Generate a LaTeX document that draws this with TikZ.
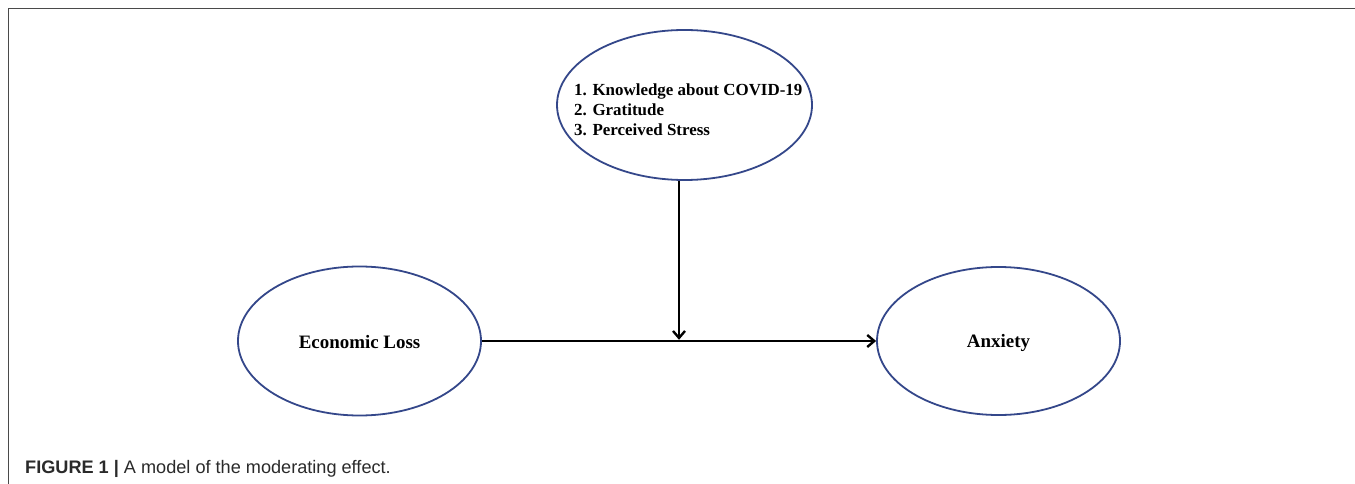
\documentclass[tikz,border=0pt]{standalone}
\usepackage{fontspec}
\setmainfont{Liberation Serif}
\newfontfamily\capfont{Liberation Sans}
\usetikzlibrary{shapes.geometric,arrows.meta}
\definecolor{ellblue}{HTML}{34478A}
\definecolor{framegray}{HTML}{4A4A4A}
\definecolor{captext}{HTML}{2A2A2A}
\begin{document}
\begin{tikzpicture}[x=1bp,y=-1bp,
  var/.style={ellipse,draw=ellblue,line width=1.8bp,inner sep=0pt},
  lbl/.style={font=\fontsize{19}{20}\selectfont\bfseries,inner sep=0pt},
  modlbl/.style={font=\fontsize{17}{20}\selectfont\bfseries,inner sep=0pt},
  conn/.style={line width=2.4bp,-{Straight Barb[length=7bp,width=12bp,line width=2.4bp]}},
  framel/.style={draw=framegray,line width=1.8bp}]
\useasboundingbox (0,0) rectangle (1355,484);
\path[fill=white] (0,0) rectangle (1355,484);
% frame
\draw[framel] (8.5,484) -- (8.5,8.5) -- (1355,8.5);
% variables
\node[var,minimum width=255bp,minimum height=150bp] (mod) at (684.5,105) {};
\node[var,minimum width=243bp,minimum height=149bp] (econ) at (359.5,341) {};
\node[var,minimum width=243bp,minimum height=148bp] (anx) at (998.5,341) {};
\node[modlbl,anchor=west,align=left] (modtxt) at (574,110) {1. Knowledge about COVID-19\\2. Gratitude\\3. Perceived Stress};
\node[lbl] (econtxt) at ([yshift=-1bp]econ.center) {Economic Loss};
\node[lbl] (anxtxt) at ([yshift=-1.5bp]anx.center) {Anxiety};
% connectors
\coordinate (join) at (679,341);
\draw[conn] (econ.east) -- (anx.west);
\draw[conn] (join |- mod.south) -- ([yshift=1.2bp]join);
% caption
\node[anchor=base west,inner sep=0pt,text=captext,font=\capfont\fontsize{18.2}{20}\selectfont] (cap) at (25,473.5) {\textbf{FIGURE 1 |} A model of the moderating effect.};
\end{tikzpicture}
\end{document}
